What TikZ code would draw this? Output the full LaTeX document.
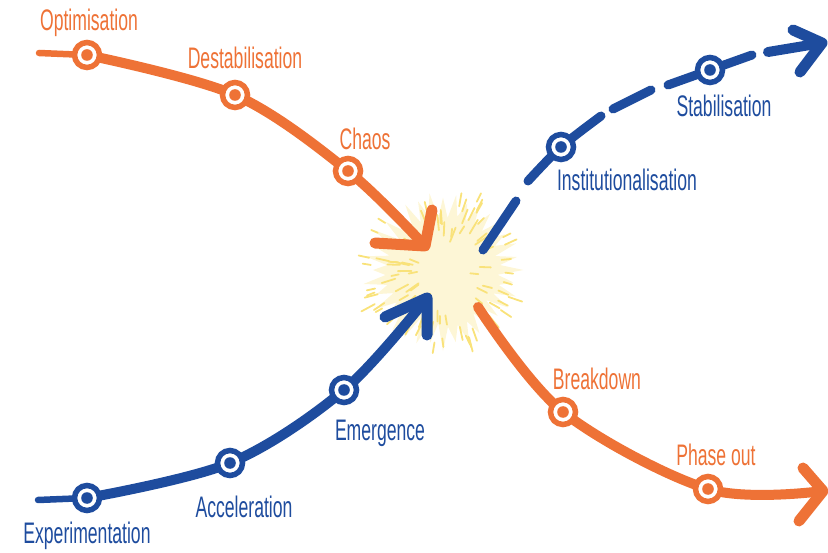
\documentclass[tikz,border=0pt]{standalone}
\usepackage{fontspec}
\setmainfont{Liberation Sans}
\usetikzlibrary{calc}
\definecolor{org}{HTML}{EE7236}
\definecolor{blu}{HTML}{1E4C9E}
\definecolor{burstfill}{HTML}{FDF6D6}
\definecolor{ray}{HTML}{F9E27A}
\newcommand{\hw}[1]{\scalebox{0.8}[1.35]{#1}}
\begin{document}
\begin{tikzpicture}[x=1pt,y=-1pt,
  mk/.style={circle,draw=#1,line width=5.5pt,fill=white,minimum size=25pt,inner sep=0pt},
  lbl/.style={font=\fontsize{22}{24}\selectfont,text=#1,inner sep=0pt,anchor=base},
  shaft/.style={draw=#1,line width=10pt,line cap=round,line join=round},
  thinline/.style={draw=#1,line width=6.5pt,line cap=round},
  dashseg/.style={draw=#1,line width=9pt,line cap=round,line join=round},
  arm/.style={draw=#1,line width=11pt,line cap=round,line join=round}]
\useasboundingbox (0,0) rectangle (828,553);
% burst
\pgfmathsetseed{7}
\foreach \a in {0,5,...,355}{
  \pgfmathsetmacro\r{mod(\a,10)==0 ? 70+12*rnd : 52+6*rnd}
  \coordinate (b\a) at ({443+\r*cos(\a)},{270+\r*sin(\a)});
}
\fill[burstfill] (b0) \foreach \a in {5,10,...,355}{-- (b\a)} -- cycle;
\foreach \i in {1,...,95}{
  \pgfmathsetmacro\a{360*rnd}
  \pgfmathsetmacro\r{25+52*rnd}
  \pgfmathsetmacro\l{7+9*rnd}
  \pgfmathsetmacro\b{\a+16*(rnd-0.5)}
  \draw[ray,line width=1.8pt,line cap=round] ({443+\r*cos(\a)},{270+\r*sin(\a)}) -- ({443+\r*cos(\a)+\l*cos(\b)},{270+\r*sin(\a)+\l*sin(\b)});
}
% coordinates
\coordinate (s1) at (39,53);
\coordinate (t1) at (425,246);
\coordinate (a1u) at (432,210);
\coordinate (a1l) at (375,243);
\coordinate (s2) at (38,500);
\coordinate (t2) at (427,298);
\coordinate (a2d) at (427,335);
\coordinate (a2l) at (385,317);
\coordinate (s3) at (478,307);
\coordinate (t3) at (823,491);
\coordinate (a3u) at (803,468);
\coordinate (a3d) at (799,521);
\coordinate (d1a) at (483,250);
\coordinate (d1b) at (516,201);
\coordinate (d2a) at (528,181);
\coordinate (d2b) at (601,116);
\coordinate (d3a) at (613,109);
\coordinate (d3b) at (651,90);
\coordinate (d4a) at (668,85);
\coordinate (d4b) at (752,55);
\coordinate (d5a) at (768,52);
\coordinate (t4) at (822,43);
\coordinate (a4u) at (793,30);
\coordinate (a4d) at (800,72);
% marker positions
\coordinate (popt) at (87,55);
\coordinate (pdes) at (235,95);
\coordinate (pcha) at (348,171);
\coordinate (pins) at (561,147);
\coordinate (psta) at (710,70);
\coordinate (pbre) at (563,412);
\coordinate (ppha) at (708,489);
\coordinate (peme) at (344,390);
\coordinate (pacc) at (230,463);
\coordinate (pexp) at (87,498);
% orange top
\draw[thinline=org] (s1) -- (popt);
\draw[shaft=org] plot[smooth,tension=0.55] coordinates {(popt) (pdes) (pcha) (t1)};
\draw[arm=org] (a1u) -- (t1) -- (a1l);
% blue bottom
\draw[thinline=blu] (s2) -- (pexp);
\draw[shaft=blu] plot[smooth,tension=0.55] coordinates {(pexp) (pacc) (peme) (t2)};
\draw[arm=blu] (a2d) -- (t2) -- (a2l);
% orange lower right
\draw[shaft=org] plot[smooth,tension=0.55] coordinates {(s3) (pbre) (ppha) (t3)};
\draw[arm=org] (a3u) -- (t3) -- (a3d);
% blue dashed
\draw[dashseg=blu] (d1a) -- (d1b);
\draw[dashseg=blu] plot[smooth,tension=0.5] coordinates {(d2a) (pins) (d2b)};
\draw[dashseg=blu] (d3a) -- (d3b);
\draw[dashseg=blu] plot[smooth,tension=0.5] coordinates {(d4a) (psta) (d4b)};
\draw[shaft=blu] (d5a) -- (t4);
\draw[arm=blu] (a4u) -- (t4) -- (a4d);
% markers
\foreach \n/\c in {opt/org,des/org,cha/org,bre/org,pha/org,ins/blu,sta/blu,eme/blu,acc/blu,exp/blu}{
  \node[mk=\c] (m\n) at (p\n) {};
  \fill[\c] (m\n.center) circle (5.8);
}
% labels
\node[lbl=org] (lopt) at (89,31) {\hw{Optimisation}};
\node[lbl=org] (ldes) at (245,69) {\hw{Destabilisation}};
\node[lbl=org] (lcha) at (365,150) {\hw{Chaos}};
\node[lbl=blu] (lins) at (627,191) {\hw{Institutionalisation}};
\node[lbl=blu] (lsta) at (724,117) {\hw{Stabilisation}};
\node[lbl=org] (lbre) at (597,390) {\hw{Breakdown}};
\node[lbl=org] (lpha) at (716,465) {\hw{Phase out}};
\node[lbl=blu] (leme) at (380,440) {\hw{Emergence}};
\node[lbl=blu] (lacc) at (244,517) {\hw{Acceleration}};
\node[lbl=blu] (lexp) at (87,543) {\hw{Experimentation}};
\end{tikzpicture}
\end{document}
